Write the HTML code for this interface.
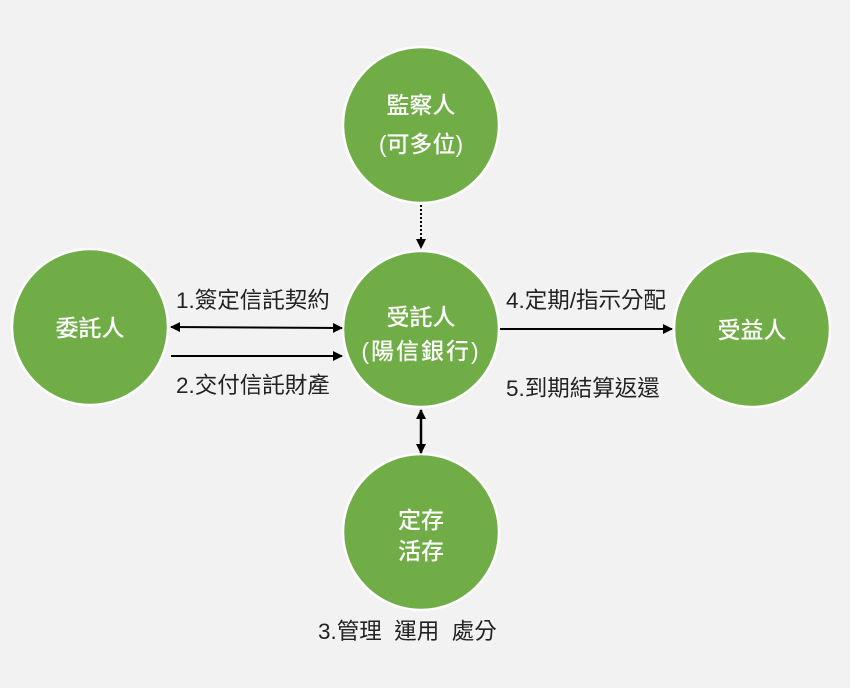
<!DOCTYPE html>
<html><head><meta charset="utf-8"><style>
html,body{margin:0;padding:0;background:#f2f2f2;}
svg{display:block}
text{font-family:"Liberation Sans","Noto Sans CJK TC",sans-serif;}
.c{fill:#70ad47;stroke:#fff;stroke-width:2.5}
.w{fill:#fff;font-size:23px;font-weight:500;text-anchor:middle}
.l{fill:#222;font-size:22.5px}
</style></head><body>
<svg width="850" height="688" viewBox="0 0 850 688">
<defs>
<marker id="a" markerWidth="10" markerHeight="10" refX="9" refY="5" orient="auto-start-reverse" markerUnits="userSpaceOnUse"><path d="M0,0 L10,5 L0,10 z" fill="#000"/></marker>
</defs>
<rect width="850" height="688" fill="#f2f2f2"/>
<circle class="c" cx="90" cy="327" r="78"/>
<circle class="c" cx="421" cy="125" r="78"/>
<circle class="c" cx="421" cy="329" r="78"/>
<circle class="c" cx="752" cy="329" r="78"/>
<circle class="c" cx="421" cy="532" r="78"/>
<text class="w" x="90" y="336">委託人</text>
<text class="w" x="421" y="113">監察人</text>
<text class="w" x="421" y="152">(可多位)</text>
<text class="w" x="421" y="325">受託人</text>
<text class="w" x="421" y="359" letter-spacing="2">(陽信銀行)</text>
<text class="w" x="752" y="338">受益人</text>
<text class="w" x="421" y="528">定存</text>
<text class="w" x="421" y="559">活存</text>
<line x1="421" y1="205" x2="421" y2="248" stroke="#000" stroke-width="2" stroke-dasharray="2,2" marker-end="url(#a)"/>
<line x1="171" y1="327" x2="342" y2="328" stroke="#000" stroke-width="2" marker-start="url(#a)" marker-end="url(#a)"/>
<line x1="171" y1="356" x2="342" y2="356" stroke="#000" stroke-width="2" marker-end="url(#a)"/>
<line x1="500" y1="329" x2="672" y2="329" stroke="#000" stroke-width="2" marker-end="url(#a)"/>
<line x1="421" y1="410" x2="421" y2="453" stroke="#000" stroke-width="2.5" marker-start="url(#a)" marker-end="url(#a)"/>
<text class="l" x="176" y="308">1.簽定信託契約</text>
<text class="l" x="176" y="393">2.交付信託財產</text>
<text class="l" x="506" y="308">4.定期/指示分配</text>
<text class="l" x="506" y="396">5.到期結算返還</text>
<text class="l" x="318" y="639">3.管理&#160;&#160;運用&#160;&#160;處分</text>
</svg>
</body></html>
